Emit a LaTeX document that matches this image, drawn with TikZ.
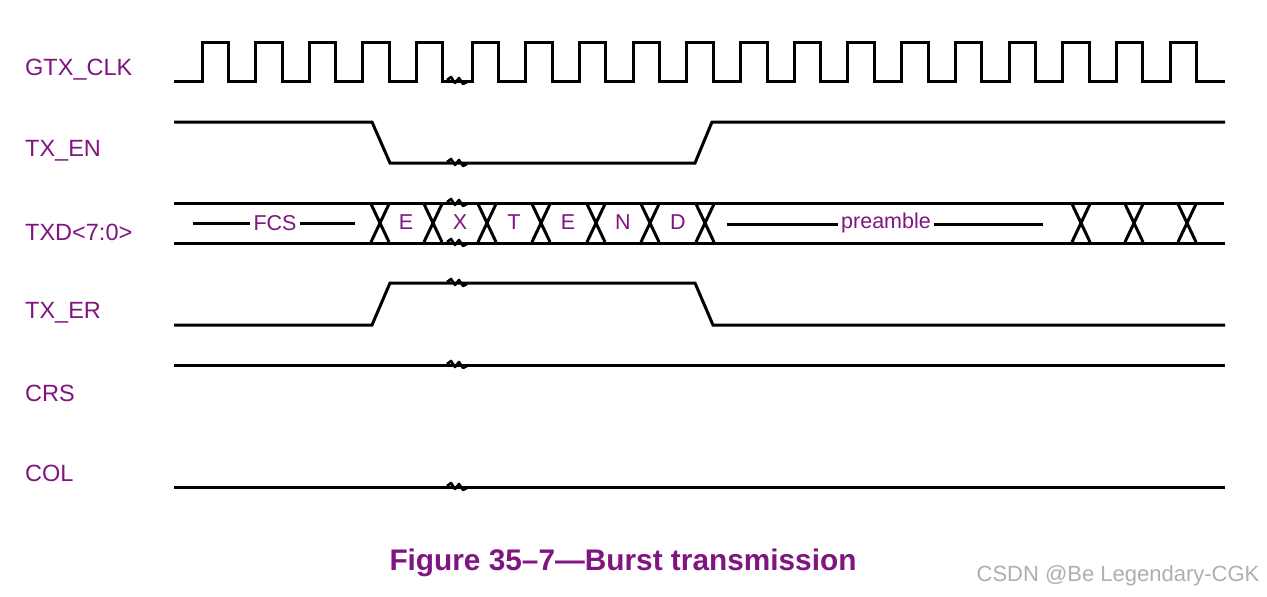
\documentclass[tikz,border=0pt]{standalone}
\usepackage{fontspec}
\setmainfont{Liberation Sans}
\definecolor{sigpurple}{RGB}{128,20,128}
\definecolor{wmgray}{RGB}{175,175,175}
\begin{document}
\begin{tikzpicture}[x=1pt,y=-1pt,
  sig/.style={line width=3pt,line join=miter,black},
  xcross/.style={line width=3pt,black},
  brk/.style={line width=2.6pt,black,line join=round},
  lbl/.style={anchor=west,text=sigpurple,font=\fontsize{23.5}{26}\selectfont,inner sep=0pt},
  dat/.style={text=sigpurple,font=\fontsize{21.5}{24}\selectfont,inner sep=0pt,fill=white},
  figcaption/.style={text=sigpurple,font=\fontsize{29.8}{32}\bfseries\selectfont,inner sep=0pt},
  wm/.style={text=wmgray,font=\fontsize{22}{24}\selectfont,inner sep=0pt}]
\useasboundingbox (0,0) rectangle (1267,597);
\fill[white] (0,0) rectangle (1267,597);

% labels
\node[lbl] (lclk) at (25,70) {GTX\_CLK};
\node[lbl] (len) at (25,151) {TX\_EN};
\node[lbl] (ltxd) at (25,232) {TXD<7:0>};
\node[lbl] (ler) at (25,313) {TX\_ER};
\node[lbl] (lcrs) at (25,393) {CRS};
\node[lbl] (lcol) at (25,473) {COL};

% GTX_CLK
\draw[sig] (174,81)
  foreach \k in {0,...,4} { -- ({202+53.6*\k},81) -- ({202+53.6*\k},42) -- ++(26.5,0) -- ++(0,39) }
  -- (472,81)
  foreach \k in {0,...,13} { -- ({472+53.7*\k},81) -- ({472+53.7*\k},42) -- ++(26.5,0) -- ++(0,39) }
  -- (1225,81);

% TX_EN
\draw[sig] (174,122) -- (372,122) -- (390,163) -- (695,163) -- (712,122) -- (1225,122);

% TXD
\draw[sig] (174,203) -- (1224,203);
\draw[sig] (174,243) -- (1225,243);
\foreach \c in {380,433,487,541,596,650,705,1081,1134,1187} {
  \draw[xcross] (\c-9,204) -- (\c+9,242);
  \draw[xcross] (\c-9,242) -- (\c+9,204);
}
\draw[line width=3pt] (193,223) -- (355,223);
\node[dat] (fcs) at (275,223) {\,FCS\,};
\foreach \t/\x [count=\i] in {E/406,X/460,T/514,E/568,N/623,D/678} {
  \node[dat] (d\i) at (\x,222) {\t};
}
\draw[line width=3pt] (727,224) -- (1043,224);
\node[dat] (pre) at (886,223) {\,preamble\,};

% TX_ER
\draw[sig] (174,325) -- (372,325) -- (390,283) -- (695,283) -- (713,325) -- (1225,325);

% CRS, COL
\draw[sig] (174,365) -- (1225,365);
\draw[sig] (174,487) -- (1225,487);

% break marks
\foreach \yy in {81,163,203,243,283,365,487} {
  \draw[brk] (447,\yy-1) -- (451,\yy-4) -- (455,\yy+2) -- (459,\yy-3) -- (463,\yy+3) -- (467,\yy+1);
}

% caption
\node[figcaption] (caption) at (623,563) {Figure 35–7—Burst transmission};
\node[wm] (wmark) at (1118,576) {CSDN @Be Legendary-CGK};
\end{tikzpicture}
\end{document}
